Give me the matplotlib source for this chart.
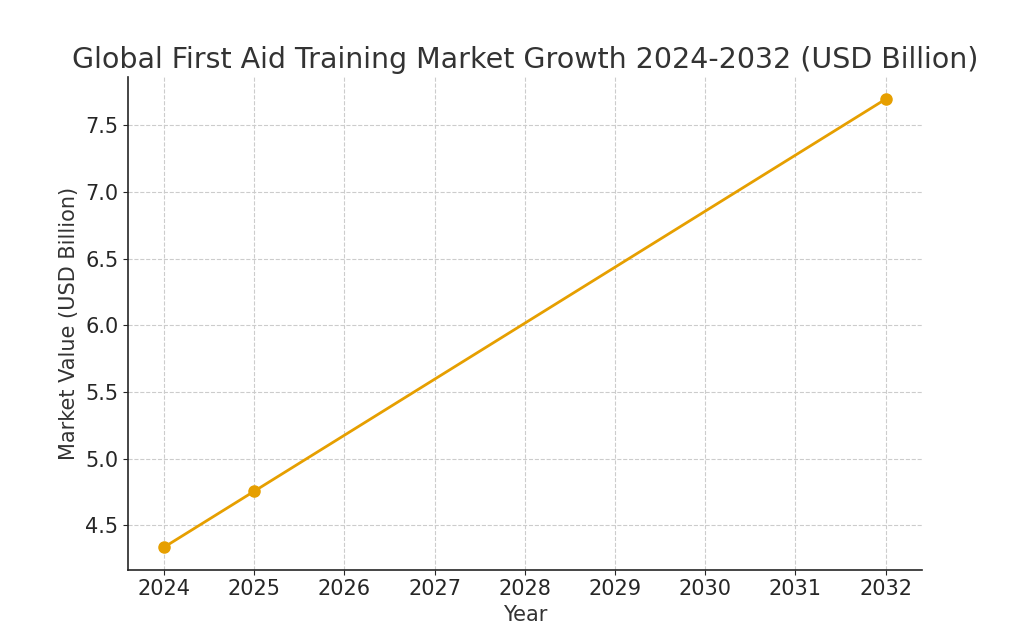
import matplotlib
matplotlib.use("Agg")
import matplotlib.pyplot as plt

years = [2024, 2025, 2032]
values = [4.335, 4.755, 7.695]
year_ticks = list(range(2024, 2033))

fig, ax = plt.subplots(figsize=(10.24, 6.4), dpi=100)
ax.plot(years, values, marker="o", color="#E69F00", linewidth=2, markersize=8)
ax.set_xticks(year_ticks)
ax.set_title("Global First Aid Training Market Growth 2024-2032 (USD Billion)",
             fontsize=20.5, color="#333333")
ax.set_xlabel("Year", fontsize=15, color="#333333")
ax.set_ylabel("Market Value (USD Billion)", fontsize=15, color="#333333")
ax.tick_params(labelsize=15, colors="#262626")
ax.grid(True, linestyle="--", color="#cccccc", linewidth=0.8)
ax.spines["top"].set_visible(False)
ax.spines["right"].set_visible(False)
ax.spines["left"].set_color("#262626")
ax.spines["bottom"].set_color("#262626")
ax.spines["left"].set_linewidth(1.2)
ax.spines["bottom"].set_linewidth(1.2)
plt.savefig("out.png", dpi=100)
plt.close()
